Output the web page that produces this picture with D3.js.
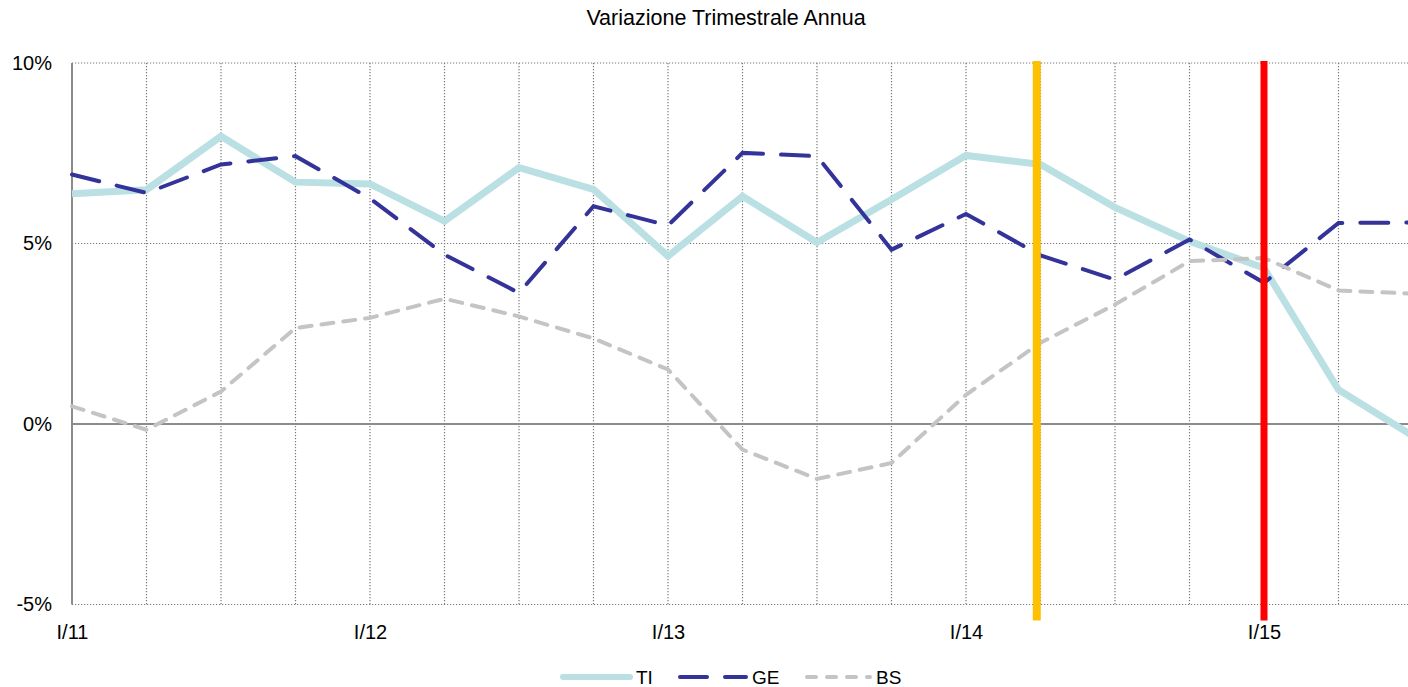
<!DOCTYPE html>
<html>
<head>
<meta charset="utf-8">
<script src="https://cdn.jsdelivr.net/npm/d3@7"></script>
<style>
  html, body { margin: 0; padding: 0; background: #fff; }
  svg { display: block; font-family: "Liberation Sans", Arial, sans-serif; }
</style>
</head>
<body>
<svg id="chart" width="1408" height="687"></svg>
<script>
// ---- data ----
const quarters = ["I/11","II/11","III/11","IV/11","I/12","II/12","III/12","IV/12",
                  "I/13","II/13","III/13","IV/13","I/14","II/14","III/14","IV/14",
                  "I/15","II/15","III/15"];
const tiValues = [6.38, 6.49, 7.97, 6.70, 6.65, 5.62, 7.10, 6.50, 4.65, 6.31,
                  5.03, 6.22, 7.44, 7.19, 6.00, 5.06, 4.32, 0.95, -0.33];
const geValues = [6.91, 6.40, 7.19, 7.42, 6.25, 4.69, 3.63, 6.03, 5.50, 7.51,
                  7.42, 4.83, 5.82, 4.67, 4.00, 5.11, 3.91, 5.57, 5.58];
const bsValues = [0.49, -0.16, 0.90, 2.66, 2.94, 3.47, 2.98, 2.37, 1.51, -0.71,
                  -1.52, -1.08, 0.81, 2.25, 3.31, 4.51, 4.60, 3.70, 3.61];
const yTicks = [-5, 0, 5, 10];
const seriesNames = ["TI", "GE", "BS"];
const markerIndex = [12.95, 16];   // positions in quarter units
const chartTitle = "Variazione Trimestrale Annua";

(function () {
const svg = d3.select("#chart");
const left = 72, plotTop = 63, plotBottom = 604.5, rightEnd = 1413;

const x = d3.scalePoint().domain(quarters).range([left, rightEnd]);
const xi = d3.scaleLinear().domain([0, quarters.length - 1]).range([left, rightEnd]);
const y = d3.scaleLinear().domain([-5, 10]).range([plotBottom, plotTop]);

const grid = svg.append("g");
grid.selectAll("line.h").data(yTicks.filter(d => d !== 0)).enter().append("line")
  .attr("x1", left).attr("x2", 1408)
  .attr("y1", d => y(d)).attr("y2", d => y(d))
  .attr("stroke", "#7a7a7a").attr("stroke-width", 1.2).attr("stroke-dasharray", "1.2,1.8");
grid.selectAll("line.v").data(quarters.slice(1)).enter().append("line")
  .attr("x1", d => x(d)).attr("x2", d => x(d))
  .attr("y1", plotTop).attr("y2", plotBottom)
  .attr("stroke", "#7a7a7a").attr("stroke-width", 1.2).attr("stroke-dasharray", "1.2,1.8");

svg.append("line").attr("x1", left).attr("x2", 1408)
  .attr("y1", y(0)).attr("y2", y(0))
  .attr("stroke", "#8c8c8c").attr("stroke-width", 2);
svg.append("line").attr("x1", left).attr("x2", left)
  .attr("y1", plotTop).attr("y2", plotBottom)
  .attr("stroke", "#8c8c8c").attr("stroke-width", 2);

const yAxis = svg.append("g").attr("transform", `translate(${left},0)`)
  .call(d3.axisLeft(y).tickValues(yTicks).tickSize(0).tickPadding(20).tickFormat(d => d + "%"));
yAxis.select(".domain").remove();
yAxis.selectAll("text").attr("font-size", 20).attr("fill", "#000")
  .attr("font-family", "Liberation Sans, Arial, sans-serif");

const xAxis = svg.append("g").attr("transform", `translate(0,${plotBottom})`)
  .call(d3.axisBottom(x).tickValues(quarters.filter(q => q.startsWith("I/"))).tickSize(0).tickPadding(20));
xAxis.select(".domain").remove();
xAxis.selectAll("text").attr("font-size", 20).attr("fill", "#000")
  .attr("font-family", "Liberation Sans, Arial, sans-serif");

const line = d3.line().x((d, i) => x(quarters[i])).y(d => y(d));
const styles = {
  TI: {stroke: "#bae0e3", width: 7, dash: null, cap: "butt"},
  GE: {stroke: "#333399", width: 4, dash: "28,18", cap: "round"},
  BS: {stroke: "#c4c4c4", width: 4, dash: "12,10", cap: "round"}
};
const valuesBy = {TI: tiValues, GE: geValues, BS: bsValues};
seriesNames.forEach(name => {
  const s = styles[name];
  svg.append("path").datum(valuesBy[name])
    .attr("d", line)
    .attr("fill", "none")
    .attr("stroke", s.stroke)
    .attr("stroke-width", s.width)
    .attr("stroke-linejoin", "miter")
    .attr("stroke-linecap", s.cap)
    .attr("stroke-dasharray", s.dash);
});

const markerStyles = [{c: "#ffc000", w: 8}, {c: "#ff0000", w: 7}];
svg.selectAll("line.marker").data(markerIndex).enter().append("line")
  .attr("x1", d => xi(d)).attr("x2", d => xi(d))
  .attr("y1", plotTop - 2).attr("y2", plotBottom + 16)
  .attr("stroke", (d, i) => markerStyles[i].c)
  .attr("stroke-width", (d, i) => markerStyles[i].w);

svg.append("text").attr("x", 726).attr("y", 25)
  .attr("text-anchor", "middle").attr("font-size", 21.5).attr("fill", "#000")
  .text(chartTitle);

const legendItems = [
  {name: "TI", x1: 561, x2: 632, dash: null},
  {name: "GE", x1: 678, x2: 748, dash: "27,18"},
  {name: "BS", x1: 805, x2: 872, dash: "9,11"}
];
const lg = svg.append("g");
legendItems.forEach(it => {
  const s = styles[it.name];
  lg.append("line").attr("x1", it.x1 + 2).attr("x2", it.x2 - 2)
    .attr("y1", 677).attr("y2", 677)
    .attr("stroke", s.stroke).attr("stroke-width", it.name === "TI" ? 6 : s.width)
    .attr("stroke-linecap", "round")
    .attr("stroke-dasharray", it.dash);
  lg.append("text").attr("x", it.x2 + 4).attr("y", 677).attr("dy", "0.36em")
    .attr("font-size", 19).attr("fill", "#000").text(it.name);
});
})();
</script>
</body>
</html>
